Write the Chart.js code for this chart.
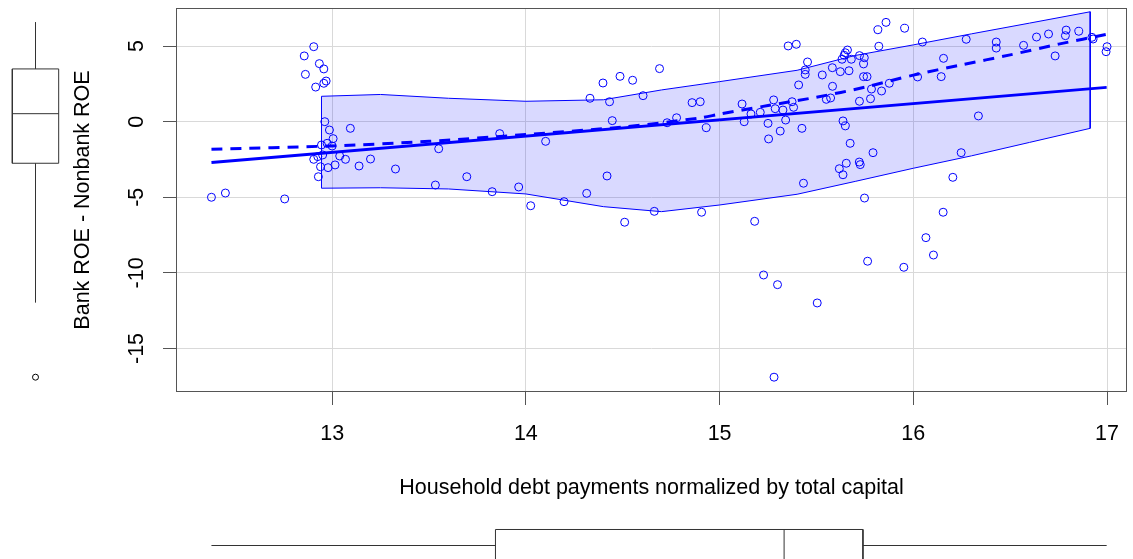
<!DOCTYPE html>
<html><head><meta charset="utf-8">
<script src="https://cdn.jsdelivr.net/npm/chart.js@4.4.1/dist/chart.umd.min.js"></script>
<style>
html,body{margin:0;padding:0;background:#fff;width:1133px;height:559px;overflow:hidden;position:relative;}
canvas{position:absolute;left:0;}
#main{top:0;}
#leftBox{top:0;}
#bottomBox{top:514px;}
</style></head><body>
<canvas id="main" width="1133" height="559"></canvas>
<canvas id="leftBox" width="71" height="559"></canvas>
<canvas id="bottomBox" width="1133" height="63"></canvas>
<script>
// ---- data ----
const xValues = [
 12.905,12.856,12.934,12.957,12.862,12.969,12.957,12.915,12.962,12.986,13.094,13.005,12.974,12.945,13.000,13.039,13.069,13.198,12.905,12.926,
 12.951,12.940,12.979,13.015,13.139,12.929,12.377,12.449,12.755,13.327,13.550,13.533,13.695,13.826,13.865,13.963,14.025,14.102,14.197,14.314,
 14.331,14.398,14.486,14.551,14.690,14.605,14.432,14.446,14.419,14.510,14.663,14.729,14.778,14.858,14.900,14.931,14.907,15.116,15.127,15.162,
 15.210,15.181,15.279,15.287,15.327,15.250,15.313,15.341,15.253,15.374,15.382,15.408,15.354,15.859,15.817,15.955,16.047,16.273,15.396,15.822,
 15.660,15.649,15.643,15.632,15.680,15.722,15.747,15.743,15.454,15.442,15.442,15.582,15.623,15.668,15.530,15.743,15.761,15.583,15.784,15.876,
 15.836,15.551,15.573,15.779,15.722,16.022,16.156,16.144,15.425,15.637,15.649,15.674,15.792,15.654,15.721,15.726,15.618,15.637,15.433,16.247,
 16.204,16.428,16.428,16.569,16.636,16.698,16.732,16.789,16.785,16.854,16.922,16.928,17.000,16.995,16.336,15.748,16.154,16.065,16.104,15.764,
 15.951,15.227,15.299,15.504,15.281
];
const yValues = [
 4.96,4.35,3.84,3.49,3.13,2.69,2.54,2.29,0.00,-0.55,-0.44,-1.12,-1.43,-1.54,-1.61,-2.27,-2.49,-2.47,-2.49,-2.31,
 -2.20,-2.98,-3.04,-2.86,-2.93,-3.64,-5.00,-4.72,-5.11,-3.13,-1.79,-4.19,-3.64,-4.63,-0.79,-4.32,-5.56,-1.30,-5.29,-4.74,
 1.55,2.56,3.00,2.74,3.51,1.72,1.32,0.07,-3.59,-6.65,-5.93,-0.07,0.26,1.26,1.32,-0.40,-5.99,1.17,0.00,0.51,
 0.62,-6.59,1.44,0.86,0.77,-0.11,-0.62,0.11,-1.14,1.32,0.95,2.43,5.01,6.57,6.08,6.18,5.27,5.45,5.12,4.99,
 4.74,4.56,4.39,4.13,4.13,4.37,4.23,3.82,3.95,3.42,3.13,3.57,3.31,3.37,3.09,2.98,2.98,2.34,2.16,2.54,
 2.03,1.48,1.57,1.52,1.35,2.96,4.19,2.98,-0.44,0.05,-0.28,-1.43,-2.05,-2.75,-2.67,-2.84,-3.11,-3.51,-4.07,-2.05,
 -3.68,5.27,4.87,5.05,5.60,5.80,4.35,6.06,5.69,5.98,5.58,5.47,4.96,4.63,0.38,-5.05,-5.99,-7.67,-8.82,-9.23,
 -9.63,-10.14,-10.78,-11.99,-16.90
];
const xTicks = [13, 14, 15, 16, 17];
const yTicks = [5, 0, -5, -10, -15];
const fitX = [12.377, 16.998];
const fitY = [-2.70, 2.27];
const smoothX = [12.377, 13.0, 13.5, 14.0, 14.5, 14.9, 15.0, 15.25, 15.5, 15.75, 16.0, 16.25, 16.5, 16.75, 17.0];
const smoothY = [-1.82, -1.60, -1.30, -0.85, -0.35, 0.25, 0.50, 1.07, 1.62, 2.28, 3.08, 3.76, 4.42, 5.13, 5.78];
const bandX = [12.945, 13.25, 13.6, 14.0, 14.4, 14.7, 15.0, 15.4, 15.7, 16.0, 16.3, 16.6, 16.913];
const bandUpper = [1.68, 1.80, 1.55, 1.35, 1.45, 2.10, 2.65, 3.40, 4.38, 5.08, 5.81, 6.52, 7.27];
const bandLower = [-4.40, -4.37, -4.45, -4.78, -5.62, -5.95, -5.51, -4.80, -3.95, -3.08, -2.26, -1.37, -0.44];
// boxplot stats: [lower whisker, Q1, median, Q3, upper whisker]
const yBox = [-11.97, -2.75, 0.53, 3.49, 6.59];
const yOutliers = [-16.90];
const xBox = [12.377, 13.843, 15.333, 15.740, 16.998];

// ---- styling constants ----
const FONT = "'Liberation Sans', Arial, Helvetica, sans-serif";
const FS = 21.5;
const X_MIN = 12.194, X_MAX = 17.103, Y_MIN = -17.88, Y_MAX = 7.52;
const BLUE = '#0000ff';
Chart.defaults.font.family = FONT;

const xy = (xs, ys) => xs.map((x, i) => ({x: x, y: ys[i]}));
const bandPoly = xy(bandX, bandUpper).concat(xy(bandX, bandLower).reverse());
bandPoly.push(bandPoly[0]);

const framePlugin = {
  id: 'frame',
  afterDatasetsDraw(chart) {
    const a = chart.chartArea, c = chart.ctx;
    c.save();
    c.strokeStyle = '#555';
    c.lineWidth = 1;
    c.strokeRect(a.left + 0.5, a.top + 0.5, a.right - a.left - 1, a.bottom - a.top - 1);
    c.restore();
  }
};

new Chart(document.getElementById('main'), {
  type: 'scatter',
  data: {
    datasets: [
      {type: 'line', label: 'fit', data: xy(fitX, fitY), borderColor: BLUE, borderWidth: 3,
       pointRadius: 0, fill: false, order: 0},
      {type: 'line', label: 'smooth', data: xy(smoothX, smoothY), borderColor: BLUE, borderWidth: 3,
       borderDash: [11, 8], pointRadius: 0, fill: false, tension: 0.3, order: 1},
      {label: 'points', data: xy(xValues, yValues), pointStyle: 'circle', pointRadius: 4,
       pointBorderWidth: 1, borderColor: BLUE, backgroundColor: 'rgba(0,0,0,0)', order: 2},
      {type: 'line', label: 'band', data: bandPoly, borderColor: BLUE, borderWidth: 1,
       backgroundColor: 'rgba(0,0,255,0.15)', fill: 'shape', pointRadius: 0, tension: 0, order: 3}
    ]
  },
  options: {
    responsive: false, animation: false,
    plugins: {legend: {display: false}, tooltip: {enabled: false}},
    layout: {padding: {left: 0, top: 8, right: 6, bottom: 0}},
    scales: {
      x: {
        type: 'linear', min: X_MIN, max: X_MAX,
        afterBuildTicks: s => { s.ticks = xTicks.map(v => ({value: v})); },
        afterFit: s => { s.height = 167; s.paddingLeft = 0; s.paddingRight = 0; },
        grid: {color: '#d9d9d9', tickColor: '#555', tickLength: 13, lineWidth: 1},
        border: {display: false},
        ticks: {padding: 16, color: '#000', maxRotation: 0, autoSkip: false,
                font: {family: FONT, size: FS}, callback: v => String(v)},
        title: {display: true, text: 'Household debt payments normalized by total capital',
                color: '#000', font: {family: FONT, size: FS}, padding: {top: 0, bottom: 58}}
      },
      y: {
        type: 'linear', min: Y_MIN, max: Y_MAX,
        afterBuildTicks: s => { s.ticks = yTicks.map(v => ({value: v})); },
        afterFit: s => { s.width = 176; s.paddingTop = 0; s.paddingBottom = 0; },
        grid: {color: '#d9d9d9', tickColor: '#555', tickLength: 13, lineWidth: 1},
        border: {display: false},
        ticks: {padding: 10, color: '#000', minRotation: 90, maxRotation: 90, crossAlign: 'center',
                autoSkip: false, font: {family: FONT, size: FS}, callback: v => String(v)},
        title: {display: true, text: 'Bank ROE - Nonbank ROE', color: '#000',
                font: {family: FONT, size: FS}, padding: {top: 70, bottom: 0}}
      }
    }
  },
  plugins: [framePlugin]
});

// ---- marginal boxplots ----
const BOX_COLOR = '#333';
function boxDatasets(stats, outliers, half, vertical) {
  const [lo, q1, med, q3, hi] = stats;
  const P = vertical ? (c, v) => ({x: c, y: v}) : (c, v) => ({x: v, y: c});
  const seg = (pts) => ({type: 'line', data: pts, borderColor: BOX_COLOR, borderWidth: 1,
                         pointRadius: 0, fill: false, tension: 0});
  return [
    seg([P(-half, q1), P(half, q1), P(half, q3), P(-half, q3), P(-half, q1)]),
    seg([P(-half, med), P(half, med)]),
    seg([P(0, q3), P(0, hi)]),
    seg([P(0, lo), P(0, q1)]),
    {data: outliers.map(v => P(0, v)), pointStyle: 'circle', pointRadius: 3, pointBorderWidth: 1,
     borderColor: '#000', backgroundColor: 'rgba(0,0,0,0)'}
  ];
}

new Chart(document.getElementById('leftBox'), {
  type: 'scatter',
  data: {datasets: boxDatasets(yBox, yOutliers, 0.76, true)},
  options: {
    responsive: false, animation: false,
    plugins: {legend: {display: false}, tooltip: {enabled: false}},
    layout: {padding: {left: 0, right: 0, top: 8, bottom: 167}},
    scales: {x: {display: false, min: -1, max: 1}, y: {display: false, min: Y_MIN, max: Y_MAX}}
  }
});

new Chart(document.getElementById('bottomBox'), {
  type: 'scatter',
  data: {datasets: boxDatasets(xBox, [], 0.508, false)},
  options: {
    responsive: false, animation: false,
    plugins: {legend: {display: false}, tooltip: {enabled: false}},
    layout: {padding: {left: 176, right: 6, top: 0, bottom: 0}},
    scales: {x: {display: false, min: X_MIN, max: X_MAX}, y: {display: false, min: -1, max: 1}}
  }
});
</script>
</body></html>
